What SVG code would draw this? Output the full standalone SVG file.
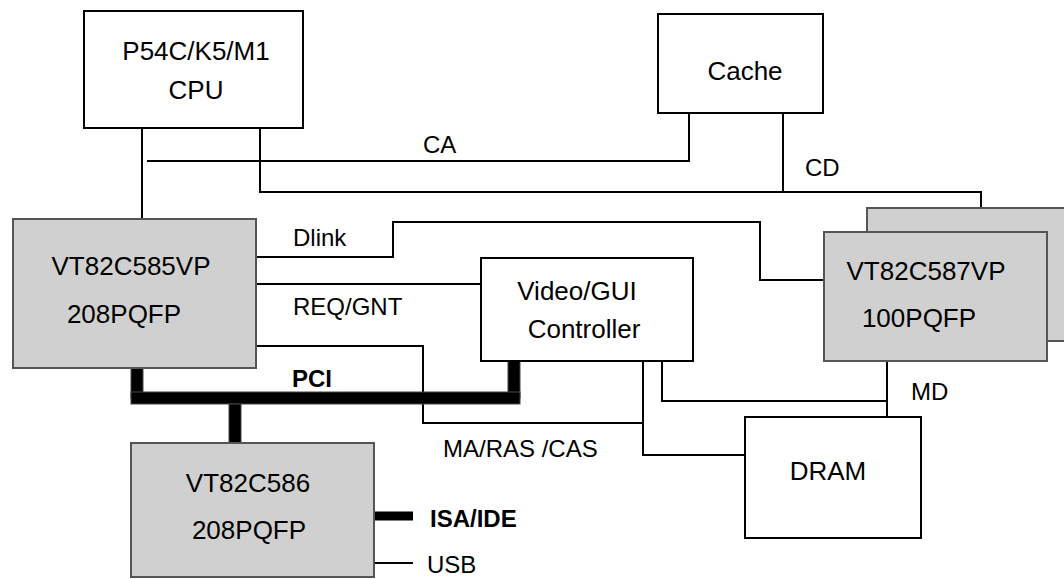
<svg xmlns="http://www.w3.org/2000/svg" width="1064" height="579" viewBox="0 0 1064 579">
<style>
.w{fill:#fff;stroke:#000;stroke-width:2}
.g{fill:#d0d0d0;stroke:#555;stroke-width:2}
.t{font-family:"Liberation Sans",Arial,sans-serif;font-size:26px;fill:#000;text-anchor:middle}
.l{font-family:"Liberation Sans",Arial,sans-serif;font-size:24px;fill:#000}
.b{font-family:"Liberation Sans",Arial,sans-serif;font-size:24px;font-weight:bold;fill:#000}
.c{fill:none;stroke:#000;stroke-width:2}
.bus{fill:#000;stroke:#444;stroke-width:1}
</style>
<rect width="1064" height="579" fill="#fff"/>
<g id="connectors">
<polyline class="c" points="142,128 142,220"/>
<polyline class="c" points="147,161 689,161 689,113"/>
<polyline class="c" points="260,127 260,192 981,192 981,208"/>
<polyline class="c" points="783,113 783,192"/>
<polyline class="c" points="256,257 393,257 393,222 760,222 760,280 824,280"/>
<polyline class="c" points="256,284 481,284"/>
<polyline class="c" points="256,346 423,346 423,423 643,423"/>
<polyline class="c" points="643,361 643,455 745,455"/>
<polyline class="c" points="662,361 662,401 887,401"/>
<polyline class="c" points="887,361 887,417"/>
<rect class="bus" x="131" y="368" width="12" height="30"/>
<rect class="bus" x="508" y="361" width="12" height="37"/>
<rect class="bus" x="131" y="392" width="389" height="12"/>
<rect class="bus" x="229" y="404" width="12" height="39"/>
<line x1="374" y1="516" x2="413" y2="516" stroke="#000" stroke-width="9"/>
<line x1="374" y1="563" x2="413" y2="563" stroke="#000" stroke-width="2"/>
<text class="l" x="423" y="153">CA</text>
<text class="l" x="805" y="176">CD</text>
<text class="l" x="293" y="246">Dlink</text>
<text class="l" x="293" y="315">REQ/GNT</text>
<text class="b" x="292" y="387">PCI</text>
<text class="l" x="443" y="457">MA/RAS /CAS</text>
<text class="l" x="911" y="400">MD</text>
<text class="b" x="430" y="527">ISA/IDE</text>
<text class="l" x="427" y="573">USB</text>
</g>
<g id="cpu">
<rect class="w" x="84" y="11" width="219" height="117"/>
<text class="t" x="196" y="60">P54C/K5/M1</text>
<text class="t" x="196" y="99">CPU</text>
</g>
<g id="cache">
<rect class="w" x="658" y="14" width="165" height="99"/>
<text class="t" x="745" y="80">Cache</text>
</g>
<g id="vt585">
<rect class="g" x="13" y="219" width="243" height="149"/>
<text class="t" x="131" y="275">VT82C585VP</text>
<text class="t" x="124" y="323">208PQFP</text>
</g>
<g id="video">
<rect class="w" x="481" y="258" width="212" height="103"/>
<text class="t" x="577" y="300">Video/GUI</text>
<text class="t" x="584" y="338">Controller</text>
</g>
<g id="vt587">
<rect class="g" x="867" y="208" width="200" height="133"/>
<rect class="g" x="824" y="232" width="223" height="129"/>
<text class="t" x="926" y="280">VT82C587VP</text>
<text class="t" x="919" y="327">100PQFP</text>
</g>
<g id="dram">
<rect class="w" x="745" y="417" width="176" height="121"/>
<text class="t" x="828" y="480">DRAM</text>
</g>
<g id="vt586">
<rect class="g" x="131" y="443" width="243" height="134"/>
<text class="t" x="248" y="492">VT82C586</text>
<text class="t" x="249" y="539">208PQFP</text>
</g>
</svg>
